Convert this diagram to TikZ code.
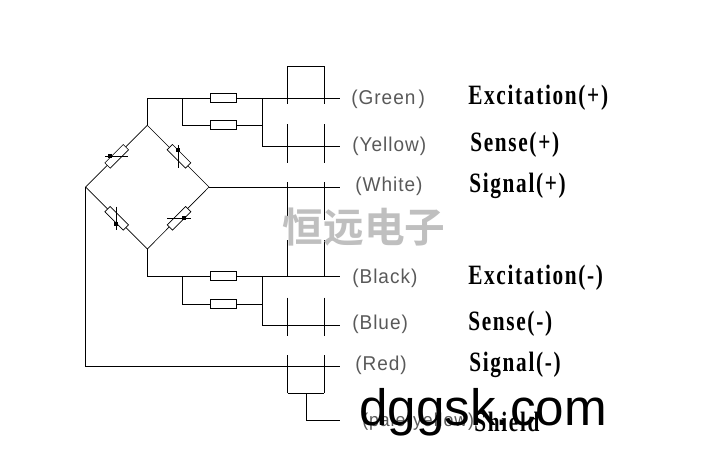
\documentclass[tikz,border=0pt]{standalone}
\usepackage{fontspec}
\setmainfont{Liberation Serif}
\newfontfamily\wirefont[LetterSpace=5,FakeStretch=0.95]{Liberation Sans}
\newfontfamily\markfont{Liberation Sans}
\newfontfamily\signalfont[FakeStretch=0.76,LetterSpace=6]{Liberation Serif Bold}
\newfontfamily\cjkfont{Noto Sans CJK SC Bold}
\usetikzlibrary{positioning,calc}

\begin{document}
\begin{tikzpicture}[
    x=0.75pt,
    y=-0.75pt,
    wire/.style={
        draw,
        line width=0.75pt
    },
    arm/.style={
        draw,
        line width=0.5pt
    },
    resbox/.style={
        rectangle,
        draw,
        fill=white,
        line width=0.75pt,
        inner sep=0pt,
        minimum width=19.5pt,
        minimum height=6.6pt
    },
    sensebox/.style={
        rectangle,
        draw,
        fill=white,
        line width=0.5pt,
        inner sep=0pt,
        minimum width=19.5pt,
        minimum height=5.6pt
    },
    blob/.style={
        rectangle,
        fill=black,
        inner sep=0pt,
        minimum width=3pt,
        minimum height=3pt
    },
    colourtag/.style={
        anchor=west,
        inner sep=0pt,
        text=black!65,
        font=\wirefont\fontsize{15}{15}\selectfont
    },
    signaltag/.style={
        anchor=west,
        inner sep=0pt,
        font=\signalfont\fontsize{21}{21}\selectfont
    }
]
    \useasboundingbox (0,0) rectangle (717,455);

    % Bridge corners
    \coordinate (top) at (147.3,125.3);
    \coordinate (right) at (209,187);
    \coordinate (bottom) at (147.3,249);
    \coordinate (left) at (85.7,187);

    % Bridge arms
    \path [arm] (top) -- (right) -- (bottom) -- (left) -- cycle;
    \node [sensebox, rotate=45] (armtl) at (116.7,156.3) {};
    \node [sensebox, rotate=-45] (armtr) at (179,156.3) {};
    \node [sensebox, rotate=-45] (armbl) at (116.7,218.3) {};
    \node [sensebox, rotate=45] (armbr) at (179,218.3) {};

    % Strokes over the arms
    \path [wire] ($(armtl)+(-11.5,0)$) -- ($(armtl)+(11.5,0)$);
    \path [wire] ($(armtr)+(-0.7,-11.3)$) -- ($(armtr)+(-0.7,11.4)$);
    \path [wire] ($(armbl)+(-0.4,-11.6)$) -- ($(armbl)+(-0.4,11.7)$);
    \path [wire] ($(armbr)+(-12,0)$) -- ($(armbr)+(11.7,0)$);
    \node [blob] at ($(armtl)+(-6.7,0)$) {};
    \node [blob] at ($(armtr)+(-0.7,-6.3)$) {};
    \node [blob] at ($(armbl)+(-0.4,5.7)$) {};
    \node [blob] at ($(armbr)+(5.3,0)$) {};

    % Wire ends
    \coordinate (green) at (340,98.3);
    \coordinate (yellow) at (340,146);
    \coordinate (white) at (340,187);
    \coordinate (black) at (340,276.3);
    \coordinate (blue) at (340,325.3);
    \coordinate (red) at (340,366.3);
    \coordinate (shield) at (340,420.3);

    % Upper wires
    \coordinate (upturn) at (147.3,98.3);
    \coordinate (upsplit) at (182.7,98.3);
    \coordinate (upjoin) at (262.5,98.3);
    \node [resbox] (resup) at (223,98.3) {};
    \node [resbox] (ressenseup) at (223,125) {};
    \path [wire] (top) -- (upturn) -- (resup) -- (upjoin) -- (green);
    \path [wire] (upsplit) |- (ressenseup);
    \path [wire] (ressenseup) -| (upjoin);
    \path [wire] (upjoin) |- (yellow);
    \path [wire] (right) -- (white);

    % Lower wires
    \coordinate (lowturn) at (147.3,276.3);
    \coordinate (lowsplit) at (182.7,276.3);
    \coordinate (lowjoin) at (262.5,276.3);
    \node [resbox] (reslow) at (223,276.3) {};
    \node [resbox] (ressenselow) at (223,304) {};
    \path [wire] (bottom) -- (lowturn) -- (reslow) -- (lowjoin) -- (black);
    \path [wire] (lowsplit) |- (ressenselow);
    \path [wire] (ressenselow) -| (lowjoin);
    \path [wire] (lowjoin) |- (blue);
    \path [wire] (left) |- (red);

    % Shield bars
    \coordinate (bartopa) at (287.5,66);
    \coordinate (bartopb) at (324,66);
    \coordinate (barenda) at (287.5,393.3);
    \coordinate (barendb) at (324,393.3);
    \foreach \barx in {287.5,324} {
        \path [wire] (\barx,66) -- (\barx,104);
        \path [wire] (\barx,124) -- (\barx,163);
        \path [wire] (\barx,182) -- (\barx,220);
        \path [wire] (\barx,240) -- (\barx,276.3);
        \path [wire] (\barx,297.7) -- (\barx,335.7);
        \path [wire] (\barx,355) -- (\barx,393.3);
    }
    \path [wire] (bartopa) -- (bartopb);
    \path [wire] (barenda) -- (barendb);
    \coordinate (shieldtap) at (306.7,393.3);
    \path [wire] (shieldtap) |- (shield);

    % Watermark
    \node [text=black!25, inner sep=0pt, font=\cjkfont\fontsize{30.5}{30.5}\selectfont] (stamp) at (364,227) {恒远电子};

    % Colour tags
    \node [colourtag] (taggreen) at (351,99) {(Green\,)};
    \node [colourtag] (tagyellow) at (352,146) {(Yellow)};
    \node [colourtag] (tagwhite) at (355,186) {(White)};
    \node [colourtag] (tagblack) at (352,278) {(Black)};
    \node [colourtag] (tagblue) at (352,324) {(Blue)};
    \node [colourtag] (tagred) at (355,365) {(Red)};
    \node [colourtag, font=\wirefont\fontsize{14}{14}\selectfont] (tagpale) at (362,422) {(pale-yellow)};

    % Signal tags
    \node [signaltag] (sigexcup) at (468,98) {Excitation(+)};
    \node [signaltag] (sigsenseup) at (470,145) {Sense(+)};
    \node [signaltag] (sigsignalup) at (469,186) {Signal(+)};
    \node [signaltag] (sigexclow) at (468,278) {Excitation(-)};
    \node [signaltag] (sigsenselow) at (468,324) {Sense(-)};
    \node [signaltag] (sigsignallow) at (469,365) {Signal(-)};
    \node [signaltag] (sigshield) at (474,422) {Shield};

    % Site mark
    \node [anchor=base west, inner sep=0pt, font=\markfont\fontsize{38.4}{38.4}\selectfont] (site) at (359,425) {dggsk.com};
\end{tikzpicture}
\end{document}
